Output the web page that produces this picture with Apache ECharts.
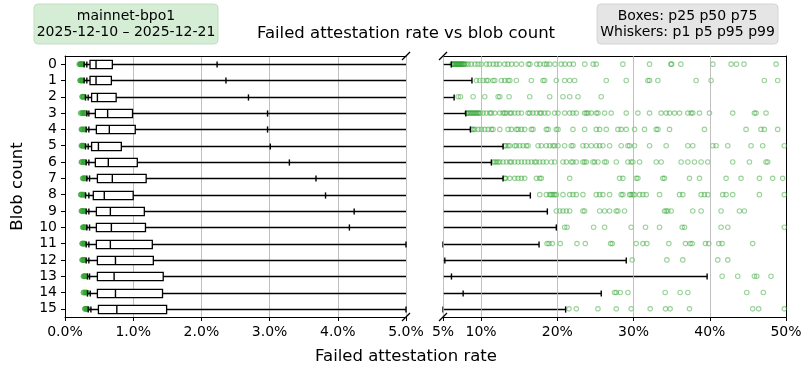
<!DOCTYPE html>
<html><head><meta charset="utf-8">
<script src="https://cdn.jsdelivr.net/npm/echarts@6/dist/echarts.min.js"></script>
<style>html,body{margin:0;padding:0;background:#fff}#c{width:811px;height:377px}</style>
</head><body><div id="c"></div>
<script>
// ---------- data (failed attestation rate, %) ----------
const blobCounts = ['0','1','2','3','4','5','6','7','8','9','10','11','12','13','14','15'];
const p1  = [0.28,0.28,0.30,0.32,0.31,0.30,0.31,0.32,0.30,0.31,0.32,0.31,0.31,0.33,0.33,0.34];
const p5  = [0.32,0.32,0.34,0.35,0.35,0.34,0.35,0.36,0.35,0.35,0.36,0.35,0.35,0.36,0.37,0.38];
const p25 = [0.367,0.367,0.39,0.445,0.46,0.39,0.445,0.475,0.415,0.46,0.46,0.46,0.475,0.475,0.475,0.49];
const p50 = [0.455,0.455,0.475,0.625,0.65,0.49,0.635,0.694,0.576,0.665,0.68,0.665,0.74,0.72,0.74,0.76];
const p75 = [0.694,0.68,0.75,0.99,1.03,0.826,1.06,1.19,1.0,1.163,1.18,1.28,1.295,1.44,1.43,1.49];
const p95 = [2.23,2.36,2.69,2.97,2.97,3.01,3.29,3.68,3.82,4.24,4.17,5.0,5.24,6.11,7.64,5.0];
const p99 = [6.1,8.8,6.46,7.99,8.6,12.88,11.35,12.88,16.46,18.69,19.87,17.6,29.04,39.65,25.76,21.09];

const lowOutliers = [
  [0.21,0.22,0.23,0.24,0.25,0.26],
  [0.22,0.23,0.24,0.25,0.26],
  [0.25,0.26,0.27,0.28],
  [0.23,0.25,0.26,0.28,0.29,0.30],
  [0.24,0.25,0.26,0.28,0.29],
  [0.24,0.25,0.26,0.27,0.28],
  [0.24,0.25,0.27,0.28,0.29],
  [0.26,0.27,0.28,0.29,0.30],
  [0.23,0.24,0.25,0.27,0.28],
  [0.24,0.25,0.26,0.28,0.29],
  [0.26,0.27,0.28,0.29,0.30],
  [0.25,0.26,0.27,0.28,0.29],
  [0.25,0.26,0.27,0.28,0.29],
  [0.27,0.28,0.29,0.30,0.31],
  [0.27,0.28,0.30,0.31,0.32],
  [0.29,0.30,0.31,0.32,0.33]
];

const highOutliers = [
  [6.2,6.3,6.4,6.5,6.6,6.7,6.8,6.9,7.0,7.1,7.2,7.3,7.4,7.5,7.6,7.7,7.8,8.0,8.3,8.7,9.2,9.6,10.0,10.7,11.1,11.6,12.0,12.4,13.1,13.5,14.0,14.6,15.3,16.2,16.4,17.3,17.7,18.3,18.6,19.0,19.7,20.5,21.0,21.6,22.1,23.6,24.7,25.1,28.6,32.1,34.9,35.0,36.2,40.4,42.8,43.5,44.5,48.7],
  [9.39,9.83,10.26,10.7,10.92,11.57,11.79,12.66,13.1,13.54,13.76,14.63,16.59,18.12,18.34,19.87,20.96,21.62,22.27,26.42,29.04,31.88,32.1,33.19,38.21,40.17,47.16,48.91],
  [6.99,7.29,8.95,10.48,12.23,12.45,13.67,16.38,19.0,20.74,21.62,22.71,25.76],
  [8.1,8.25,8.4,8.55,8.7,8.85,9.0,9.15,9.3,9.45,9.6,9.75,9.9,10.26,10.7,11.14,11.35,11.79,12.45,12.88,13.1,13.32,13.76,13.97,14.41,14.85,15.28,16.16,16.38,16.81,17.25,17.69,17.9,18.34,18.78,19.65,20.09,20.96,21.62,22.05,22.49,23.58,23.8,24.02,24.45,25.11,25.33,26.2,27.07,29.04,30.57,32.1,33.62,34.28,34.72,35.37,36.03,37.12,37.55,37.77,38.65,39.96,43.01,45.85,46.07,47.38],
  [8.8,8.95,9.17,9.61,10.04,10.48,10.92,11.35,11.57,12.45,13.54,13.97,14.63,14.85,15.28,15.72,16.59,16.81,18.56,18.78,19.87,20.09,22.05,23.58,25.11,25.55,26.42,27.95,28.38,29.04,30.13,31.44,32.97,33.19,34.72,39.3,44.76,46.72,47.16,48.91],
  [13.1,13.23,13.54,13.76,14.41,14.63,15.07,15.5,15.94,16.16,17.47,17.9,18.56,19.0,19.43,19.65,20.09,20.96,21.83,22.05,23.36,23.8,24.45,25.11,25.55,25.98,26.86,28.38,29.26,29.48,30.13,32.1,34.28,37.12,37.77,40.39,40.83,42.36,45.41,46.94,49.78],
  [11.6,11.79,12.01,12.23,12.45,12.88,13.32,13.76,13.97,14.41,14.85,15.28,15.72,16.16,16.59,17.03,17.25,17.69,18.12,18.56,19.21,19.65,20.74,21.18,21.83,22.05,22.49,23.36,23.58,23.8,24.67,24.89,25.33,26.2,26.42,27.73,29.26,29.69,29.91,30.79,32.97,33.62,36.24,37.12,37.99,38.86,39.74,43.01,45.2,47.38,47.6],
  [13.1,13.23,13.76,14.41,14.85,15.28,15.72,17.25,17.69,17.9,21.62,28.17,28.6,30.35,30.57,33.84,34.06,37.34,38.65,42.14,44.1,46.51,48.25,49.56],
  [17.69,18.56,19.0,19.21,19.43,19.65,19.87,20.74,21.62,22.05,22.49,23.36,25.11,25.55,25.98,26.86,28.38,28.6,29.48,29.69,29.91,30.13,30.79,31.22,31.66,33.41,36.03,36.46,38.86,39.3,39.74,41.7,42.14,43.01,46.51,49.78],
  [19.87,20.31,20.74,21.18,21.62,23.36,23.58,25.55,26.2,26.86,27.73,27.95,28.82,34.06,34.28,34.5,34.93,37.77,38.86,41.48,43.89,44.54],
  [20.96,21.27,24.76,26.2,29.69,31.57,33.41,36.38,36.68,41.48,42.36,49.78],
  [18.65,18.91,19.34,20.39,22.58,23.67,26.99,27.21,30.35,31.22,31.75,34.63,36.81,37.42,37.69,39.43,39.87,41.18,41.62,45.63],
  [29.83,34.37,36.46,41.05,42.36],
  [41.62,43.67,45.85,46.16,48.03],
  [27.51,27.73,28.25,29.26,34.15,36.11,37.12,44.85,47.03],
  [21.53,22.49,25.33,27.73,29.69,32.18,34.19,34.8,37.34,45.63,46.42,49.78]
];

const leftTicks = [0,1,2,3,4,5];
const rightTicks = [5,10,20,30,40,50];
const titleText = 'Failed attestation rate vs blob count';
const xLabelText = 'Failed attestation rate';
const yLabelText = 'Blob count';
const infoLeft = 'mainnet-bpo1\n2025-12-10 – 2025-12-21';
const infoRight = 'Boxes: p25 p50 p75\nWhiskers: p1 p5 p95 p99';

// ---------- chart ----------
const FONT = 'DejaVu Sans';
const GL = {left:65, top:56, width:341, height:261};
const GR = {left:443, top:56, width:343, height:261};
const GRID_C = '#b0b0b0';

const boxData = blobCounts.map((c,i)=>[i,p1[i],p5[i],p25[i],p50[i],p75[i],p95[i],p99[i]]);
const lowData = [];
lowOutliers.forEach((arr,i)=>arr.forEach(v=>lowData.push([v,i])));
const highData = [];
highOutliers.forEach((arr,i)=>arr.forEach(v=>highData.push([v,i])));

function renderBox(params, api){
  const cs = params.coordSys;
  const x0 = cs.x, x1 = cs.x + cs.width;
  const cat = api.value(0);
  const v = [1,2,3,4,5,6,7].map(k=>api.value(k));
  const X = val => api.coord([val, cat])[0];
  const cy = Math.round(api.coord([v[0], cat])[1]) + 0.5;
  const band = api.size([0,1])[1];
  const clamp = x => Math.max(x0, Math.min(x1, x));
  const inside = x => x >= x0 - 0.01 && x <= x1 + 0.01;
  const st = {stroke:'#000', lineWidth:1.4};
  const ch = [];
  const wa = X(v[0]), wb = X(v[6]);
  if (wb >= x0 && wa <= x1) ch.push({type:'line', shape:{x1:clamp(wa),y1:cy,x2:clamp(wb),y2:cy}, style:st});
  const bh = band*0.5;
  const ba = X(v[2]), bb = X(v[4]);
  if (bb >= x0 && ba <= x1) ch.push({type:'rect', shape:{x:clamp(ba), y:cy-bh/2, width:clamp(bb)-clamp(ba), height:bh}, style:{fill:'#fff', stroke:'#000', lineWidth:1.3}});
  const m = X(v[3]);
  if (inside(m)) ch.push({type:'line', shape:{x1:m,y1:cy-bh/2,x2:m,y2:cy+bh/2}, style:st});
  const capH = band*0.38;
  [v[0],v[1],v[5],v[6]].forEach(val=>{const x=X(val); if(inside(x)) ch.push({type:'line', shape:{x1:x,y1:cy-capH/2,x2:x,y2:cy+capH/2}, style:st});});
  return {type:'group', children:ch};
}

const tickLabel = {fontFamily:FONT, fontSize:14, color:'#000'};
const pctFmt1 = v => v.toFixed(1)+'%';
const pctFmt0 = v => Math.round(v)+'%';

const chart = echarts.init(document.getElementById('c'), null, {renderer:'canvas'});
const option = {
  animation:false,
  backgroundColor:'#fff',
  grid:[
    Object.assign({containLabel:false}, GL),
    Object.assign({containLabel:false}, GR)
  ],
  xAxis:[
    {gridIndex:0, type:'value', position:'bottom', min:leftTicks[0], max:leftTicks[leftTicks.length-1], interval:1,
     axisLine:{show:true, onZero:false, lineStyle:{color:'#000', width:1}},
     axisTick:{show:true, length:4, lineStyle:{color:'#000'}},
     axisLabel:{...tickLabel, margin:8, formatter:pctFmt1},
     splitLine:{show:true, lineStyle:{color:GRID_C, width:0.8}}},
    {gridIndex:1, type:'value', position:'bottom', min:rightTicks[0], max:rightTicks[rightTicks.length-1], interval:5,
     axisLine:{show:true, onZero:false, lineStyle:{color:'#000', width:1}},
     axisTick:{show:true, length:4, lineStyle:{color:'#000'}, customValues:rightTicks},
     axisLabel:{...tickLabel, margin:8, formatter:pctFmt0, customValues:rightTicks},
     splitLine:{show:false}},
    {gridIndex:0, type:'value', position:'top', min:0, max:5,
     axisLine:{show:true, onZero:false, lineStyle:{color:'#000', width:1}},
     axisTick:{show:false}, axisLabel:{show:false}, splitLine:{show:false}},
    {gridIndex:1, type:'value', position:'top', min:5, max:50,
     axisLine:{show:true, onZero:false, lineStyle:{color:'#000', width:1}},
     axisTick:{show:false}, axisLabel:{show:false}, splitLine:{show:false}}
  ],
  yAxis:[
    {gridIndex:0, type:'category', data:blobCounts, inverse:true, position:'left',
     axisLine:{show:true, onZero:false, lineStyle:{color:'#000', width:1}},
     axisTick:{show:true, length:4, interval:0, alignWithLabel:true, lineStyle:{color:'#000'}},
     axisLabel:{...tickLabel, fontSize:14, interval:0, margin:8},
     splitLine:{show:false}},
    {gridIndex:1, type:'category', data:blobCounts, inverse:true, position:'left',
     axisLine:{show:false}, axisTick:{show:false}, axisLabel:{show:false}, splitLine:{show:false}},
    {gridIndex:1, type:'category', data:blobCounts, inverse:true, position:'right',
     axisLine:{show:true, onZero:false, lineStyle:{color:'#000', width:1}},
     axisTick:{show:false}, axisLabel:{show:false}, splitLine:{show:false}}
  ],
  series:[
    {type:'line', xAxisIndex:1, yAxisIndex:1, data:[], z:1, silent:true,
     markLine:{silent:true, symbol:'none', label:{show:false}, animation:false,
       lineStyle:{color:GRID_C, width:0.8, type:'solid'},
       data: rightTicks.filter(v=>v<rightTicks[rightTicks.length-1]).map(v=>({xAxis:v}))}},
    {type:'custom', xAxisIndex:0, yAxisIndex:0, renderItem:renderBox, data:boxData,
     encode:{y:0, x:[1,2,3,4,5,6,7]}, z:3, silent:true},
    {type:'custom', xAxisIndex:1, yAxisIndex:1, renderItem:renderBox, data:boxData,
     encode:{y:0, x:[1,2,3,4,5,6,7]}, z:3, silent:true},
    {type:'scatter', xAxisIndex:0, yAxisIndex:0, data:lowData, symbol:'circle', symbolSize:5,
     itemStyle:{color:'rgba(44,160,44,0.45)', borderColor:'rgba(44,160,44,0.7)', borderWidth:1}, z:2, silent:true},
    {type:'scatter', xAxisIndex:1, yAxisIndex:1, data:highData, symbol:'circle', symbolSize:4.5,
     itemStyle:{color:'rgba(255,255,255,0)', borderColor:'rgba(44,160,44,0.6)', borderWidth:1.1}, z:2, silent:true}
  ],
  graphic:[
    {type:'rect', shape:{x:34, y:4, width:184, height:40, r:4}, style:{fill:'#d5ecd5', stroke:'#c2e0c2', lineWidth:1}, z:10},
    {type:'text', x:126, y:24, style:{text:infoLeft, fontFamily:FONT, fontSize:14, lineHeight:16, fill:'#000', align:'center', verticalAlign:'middle'}, z:11},
    {type:'rect', shape:{x:597, y:4, width:181, height:40, r:4}, style:{fill:'#e5e5e5', stroke:'#d4d4d4', lineWidth:1}, z:10},
    {type:'text', x:687.5, y:24, style:{text:infoRight, fontFamily:FONT, fontSize:14, lineHeight:16, fill:'#000', align:'center', verticalAlign:'middle'}, z:11},
    {type:'text', x:406, y:34, style:{text:titleText, fontFamily:FONT, fontSize:16.5, fill:'#000', align:'center', verticalAlign:'middle'}, z:11},
    {type:'text', x:406, y:357, style:{text:xLabelText, fontFamily:FONT, fontSize:16.5, fill:'#000', align:'center', verticalAlign:'middle'}, z:11},
    {type:'text', x:18, y:186.5, rotation:Math.PI/2, style:{text:yLabelText, fontFamily:FONT, fontSize:16.5, fill:'#000', align:'center', verticalAlign:'middle'}, z:11}
  ]
};
chart.setOption(option);

// axis-break marks placed at the panel edges via the axes' own scales
(function(){
  const xr = chart.convertToPixel({xAxisIndex:0}, leftTicks[leftTicks.length-1]);
  const xl = chart.convertToPixel({xAxisIndex:1}, rightTicks[0]);
  const yt = GL.top, yb = GL.top + GL.height, d = 4;
  const mk = (x,y)=>({type:'line', shape:{x1:x-d,y1:y+d,x2:x+d,y2:y-d}, style:{stroke:'#000', lineWidth:1.3}, z:12});
  chart.setOption({graphic: option.graphic.concat([mk(xr,yt), mk(xr,yb), mk(xl,yt), mk(xl,yb)])});
})();
</script>
</body></html>
